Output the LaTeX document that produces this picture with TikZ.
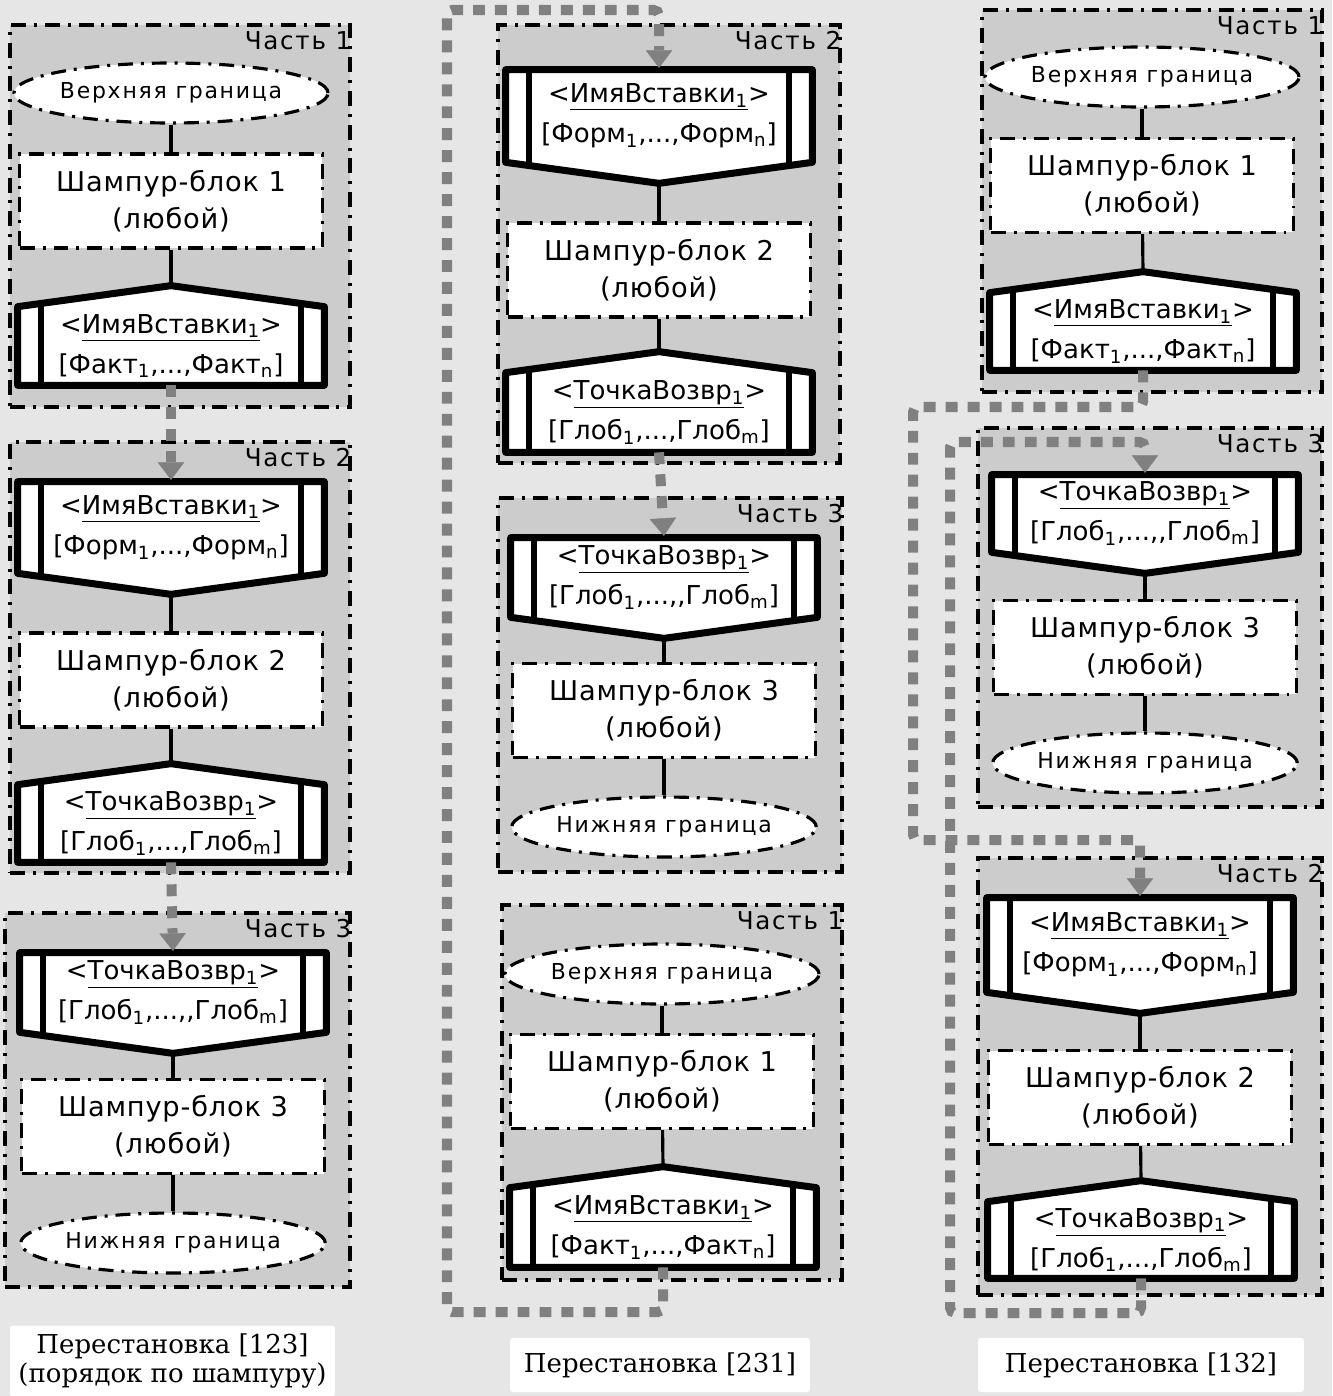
\documentclass[tikz,border=0pt]{standalone}
\usepackage{fontspec}
\setmainfont{DejaVu Serif}
\setsansfont{DejaVu Sans}
\newfontfamily\lblfont{DejaVu Sans}[LetterSpace=7]
\newfontfamily\blkfont{DejaVu Sans}[LetterSpace=3]
\newfontfamily\bndfont{DejaVu Sans}[LetterSpace=8]
\newfontfamily\insfont{DejaVu Sans}
\usepackage{tikz}
\usetikzlibrary{positioning,calc,shapes.geometric,arrows.meta}
\definecolor{cbg}{HTML}{E6E6E6}
\definecolor{cpanel}{HTML}{CCCCCC}
\definecolor{cflow}{HTML}{808080}
\pgfdeclarelayer{back}
\pgfsetlayers{back,main}
\tikzset{
  dashdot/.style={dash pattern=on 8.5pt off 4.5pt on 1.7pt off 4.5pt},
  panel/.style={draw,fill=cpanel,dashdot,line width=1.8pt},
  partlbl/.style={anchor=north east,font=\lblfont\fontsize{14}{16}\selectfont,
    inner xsep=0pt,inner ysep=4.5pt},
  bound/.style={ellipse,draw,fill=white,dashdot,line width=1.8pt,
    minimum width=6.05cm,minimum height=1.2cm,inner sep=0pt,
    font=\bndfont\fontsize{12.5}{14}\selectfont},
  shblk/.style={draw,fill=white,dashdot,line width=1.8pt,
    minimum width=6.05cm,minimum height=1.88cm,align=center,
    font=\blkfont\fontsize{15.5}{21}\selectfont},
  insbox/.style={minimum width=6.12cm,inner sep=0pt,align=center,
    font=\insfont\fontsize{14.8}{23}\selectfont},
  insline/.style={draw,fill=white,line width=4pt,line join=round},
  insbar/.style={line width=3.4pt},
  link/.style={line width=1.8pt},
  flow/.style={draw=cflow,line width=5.7pt,dash pattern=on 6.8pt off 5.7pt,
    rounded corners=3pt,-{Triangle[width=15pt,length=10pt,line width=0.1pt]},
    shorten >=1pt},
  capbox/.style={fill=white,rounded corners=1.5pt,align=center,
    font=\rmfamily\fontsize{14.8}{17}\selectfont}
}
% insertion block, peak on top / peak at the bottom
\newcommand{\insup}[4]{%
  \node[insbox,minimum height=#3] (#1) at (#2) {#4};
  \coordinate (#1-pk) at ($(#1.north)+(0,-21)$);
  \begin{pgfonlayer}{back}
    \draw[insline] (#1.south west) -- (#1.north west) -- (#1-pk)
      -- (#1.north east) -- (#1.south east) -- cycle;
    \draw[insbar] ($(#1.south west)+(23,0)$) -- ($(#1.north west)+(23,-3)$)
      ($(#1.south east)+(-23,0)$) -- ($(#1.north east)+(-23,-3)$);
  \end{pgfonlayer}}
\newcommand{\insdown}[4]{%
  \node[insbox,minimum height=#3] (#1) at (#2) {#4};
  \coordinate (#1-pk) at ($(#1.south)+(0,21)$);
  \begin{pgfonlayer}{back}
    \draw[insline] (#1.north west) -- (#1.south west) -- (#1-pk)
      -- (#1.south east) -- (#1.north east) -- cycle;
    \draw[insbar] ($(#1.north west)+(23,0)$) -- ($(#1.south west)+(23,3)$)
      ($(#1.north east)+(-23,0)$) -- ($(#1.south east)+(-23,3)$);
  \end{pgfonlayer}}
\newcommand{\imja}{<\underline{ИмяВставки\textsubscript{1}}>}
\newcommand{\tochka}{<\underline{ТочкаВозвр\textsubscript{1}}>}

\begin{document}
\begin{tikzpicture}[x=0.02cm,y=-0.02cm]
  \begin{pgfonlayer}{back}
    \fill[cbg] (0,0) rectangle (1332,1396);
    \node[panel,minimum width=6.8cm,minimum height=7.64cm] (pl1) at (180,216) {};
    \node[panel,minimum width=6.8cm,minimum height=8.62cm] (pl2) at (180,657.5) {};
    \node[panel,minimum width=6.9cm,minimum height=7.48cm] (pl3) at (177.5,1100) {};
    \node[panel,minimum width=6.84cm,minimum height=8.76cm] (pm2) at (669,244) {};
    \node[panel,minimum width=6.88cm,minimum height=7.48cm] (pm3) at (670,685) {};
    \node[panel,minimum width=6.8cm,minimum height=7.5cm] (pm1) at (672,1092.5) {};
    \node[panel,minimum width=6.8cm,minimum height=7.64cm] (pr1) at (1152,201) {};
    \node[panel,minimum width=6.88cm,minimum height=7.58cm] (pr3) at (1150,617.5) {};
    \node[panel,minimum width=6.88cm,minimum height=8.74cm] (pr2) at (1150,1076.5) {};
  \end{pgfonlayer}
  \useasboundingbox (0,0) rectangle (1332,1396);

  \node[partlbl] (tl1) at (pl1.north east) {Часть 1};
  \node[partlbl] (tl2) at (pl2.north east) {Часть 2};
  \node[partlbl] (tl3) at (pl3.north east) {Часть 3};
  \node[partlbl] (tm2) at (pm2.north east) {Часть 2};
  \node[partlbl] (tm3) at (pm3.north east) {Часть 3};
  \node[partlbl] (tm1) at (pm1.north east) {Часть 1};
  \node[partlbl] (tr1) at (pr1.north east) {Часть 1};
  \node[partlbl] (tr3) at (pr3.north east) {Часть 3};
  \node[partlbl] (tr2) at (pr2.north east) {Часть 2};

  \node[bound] (l1e) at (171,93) {Верхняя граница};
  \node[shblk] (l1b) at (171,201) {Шампур-блок 1\\(любой)};
  \insup{l1i}{171,346}{1.56cm}{\imja\\{[}Факт\textsubscript{1},...,Факт\textsubscript{n}]}
  \insdown{l2f}{171,527.5}{1.82cm}{\imja\\{[}Форм\textsubscript{1},...,Форм\textsubscript{n}]}
  \node[shblk] (l2b) at (171,680) {Шампур-блок 2\\(любой)};
  \insup{l2t}{171,823.5}{1.54cm}{\tochka\\{[}Глоб\textsubscript{1},...,Глоб\textsubscript{m}]}
  \insdown{l3t}{173,992.5}{1.58cm}{\tochka\\{[}Глоб\textsubscript{1},...,,Глоб\textsubscript{m}]}
  \node[shblk] (l3b) at (173,1126.5) {Шампур-блок 3\\(любой)};
  \node[bound] (l3e) at (173,1243) {Нижняя граница};

  \insdown{m2f}{659,116}{1.84cm}{\imja\\{[}Форм\textsubscript{1},...,Форм\textsubscript{n}]}
  \node[shblk] (m2b) at (659,270) {Шампур-блок 2\\(любой)};
  \insup{m2t}{659,412.5}{1.58cm}{\tochka\\{[}Глоб\textsubscript{1},...,Глоб\textsubscript{m}]}
  \insdown{m3t}{664,577.5}{1.58cm}{\tochka\\{[}Глоб\textsubscript{1},...,,Глоб\textsubscript{m}]}
  \node[shblk] (m3b) at (664,710.5) {Шампур-блок 3\\(любой)};
  \node[bound] (m3e) at (664,827) {Нижняя граница};
  \node[bound] (m1e) at (662,974) {Верхняя граница};
  \node[shblk] (m1b) at (662,1081.5) {Шампур-блок 1\\(любой)};
  \insup{m1i}{663,1227.5}{1.58cm}{\imja\\{[}Факт\textsubscript{1},...,Факт\textsubscript{n}]}

  \node[bound] (r1e) at (1142,77) {Верхняя граница};
  \node[shblk] (r1b) at (1142,185.5) {Шампур-блок 1\\(любой)};
  \insup{r1i}{1143,331.5}{1.54cm}{\imja\\{[}Факт\textsubscript{1},...,Факт\textsubscript{n}]}
  \insdown{r3t}{1145,513.5}{1.54cm}{\tochka\\{[}Глоб\textsubscript{1},...,,Глоб\textsubscript{m}]}
  \node[shblk] (r3b) at (1145,647.5) {Шампур-блок 3\\(любой)};
  \node[bound] (r3e) at (1145,763) {Нижняя граница};
  \insdown{r2f}{1140,945}{1.88cm}{\imja\\{[}Форм\textsubscript{1},...,Форм\textsubscript{n}]}
  \node[shblk] (r2b) at (1140,1097.5) {Шампур-блок 2\\(любой)};
  \insup{r2t}{1141,1240}{1.52cm}{\tochka\\{[}Глоб\textsubscript{1},...,Глоб\textsubscript{m}]}

  \draw[link] (l1e) -- (l1b);
  \draw[link] (l1b) -- (l1i-pk);
  \draw[link] (l2f-pk) -- (l2b);
  \draw[link] (l2b) -- (l2t-pk);
  \draw[link] (l3t-pk) -- (l3b);
  \draw[link] (l3b) -- (l3e);
  \draw[link] (m2f-pk) -- (m2b);
  \draw[link] (m2b) -- (m2t-pk);
  \draw[link] (m3t-pk) -- (m3b);
  \draw[link] (m3b) -- (m3e);
  \draw[link] (m1e) -- (m1b);
  \draw[link] (m1b) -- (m1i-pk);
  \draw[link] (r1e) -- (r1b);
  \draw[link] (r1b) -- (r1i-pk);
  \draw[link] (r3t-pk) -- (r3b);
  \draw[link] (r3b) -- (r3e);
  \draw[link] (r2f-pk) -- (r2b);
  \draw[link] (r2b) -- (r2t-pk);

  \coordinate (mbl) at (447,1312);
  \coordinate (mtl) at (447,10);
  \coordinate (ra1) at (913,407);
  \coordinate (ra2) at (913,840);
  \coordinate (rb1) at (950,1313);
  \coordinate (rb2) at (950,442);
  \draw[flow] (l1i.south) -- (l2f.north);
  \draw[flow] (l2t.south) -- (l3t.north);
  \draw[flow] (m1i.south) |- (mbl) -- (mtl) -| (m2f.north);
  \draw[flow] (m2t.south) -- (m3t.north);
  \draw[flow] (r1i.south) |- (ra1) -- (ra2) -| (r2f.north);
  \draw[flow] (r2t.south) |- (rb1) -- (rb2) -| (r3t.north);

  \node[capbox,minimum width=6.5cm,minimum height=1.42cm] (cap1) at (172.5,1361)
    {Перестановка [123]\\(порядок по шампуру)};
  \node[capbox,minimum width=6cm,minimum height=1.08cm] (cap2) at (660,1365)
    {Перестановка [231]};
  \node[capbox,minimum width=6.52cm,minimum height=1.08cm] (cap3) at (1141,1365)
    {Перестановка [132]};
\end{tikzpicture}
\end{document}
